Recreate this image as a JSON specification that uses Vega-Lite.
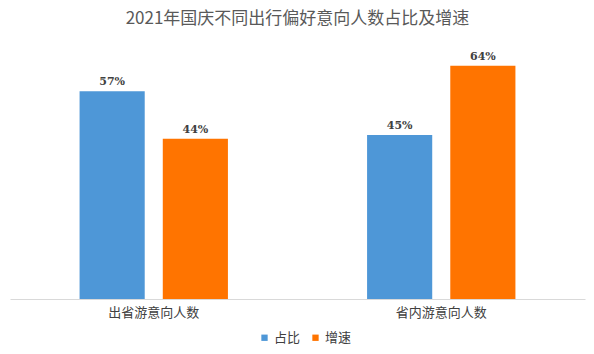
{
  "$schema": "https://vega.github.io/schema/vega-lite/v6.json",
  "autosize": "none",
  "width": 575,
  "height": 255,
  "padding": {"left": 10, "top": 44, "right": 9, "bottom": 55},
  "background": "white",
  "title": {
    "text": "2021年国庆不同出行偏好意向人数占比及增速",
    "font": "Noto Sans CJK SC",
    "fontSize": 17,
    "fontWeight": "normal",
    "color": "#595959",
    "offset": 16,
    "anchor": "middle"
  },
  "data": {
    "values": [
      {"group": "出省游意向人数", "series": "占比", "value": 0.57},
      {"group": "出省游意向人数", "series": "增速", "value": 0.44},
      {"group": "省内游意向人数", "series": "占比", "value": 0.45},
      {"group": "省内游意向人数", "series": "增速", "value": 0.64}
    ]
  },
  "encoding": {
    "x": {
      "field": "group",
      "type": "nominal",
      "sort": ["出省游意向人数", "省内游意向人数"],
      "scale": {"paddingInner": 0.484, "paddingOuter": 0.242},
      "axis": {
        "title": null,
        "labelAngle": 0,
        "labelFont": "Noto Sans CJK SC",
        "labelFontSize": 13,
        "labelColor": "#404040",
        "labelPadding": 7,
        "ticks": false,
        "domainColor": "#d9d9d9",
        "domainWidth": 1
      }
    },
    "xOffset": {
      "field": "series",
      "type": "nominal",
      "sort": ["占比", "增速"],
      "scale": {"paddingInner": 0.217, "paddingOuter": 0}
    },
    "y": {
      "field": "value",
      "type": "quantitative",
      "scale": {"domain": [0, 0.7]},
      "axis": null
    }
  },
  "layer": [
    {
      "mark": {"type": "bar"},
      "encoding": {
        "color": {
          "field": "series",
          "type": "nominal",
          "sort": ["占比", "增速"],
          "scale": {"domain": ["占比", "增速"], "range": ["#4E97D7", "#FF7400"]},
          "legend": {
            "title": null,
            "orient": "none",
            "legendX": 248,
            "legendY": 287,
            "direction": "horizontal",
            "symbolType": "square",
            "symbolSize": 40,
            "labelFont": "Noto Sans CJK SC",
            "labelFontSize": 13,
            "labelColor": "#404040",
            "columnPadding": 8,
            "symbolOffset": 0,
            "labelOffset": 3
          }
        }
      }
    },
    {
      "mark": {
        "type": "text",
        "dy": -9,
        "font": "DejaVu Serif",
        "fontWeight": "bold",
        "fontSize": 11,
        "color": "#404040"
      },
      "encoding": {
        "text": {"field": "value", "type": "quantitative", "format": ".0%"}
      }
    }
  ],
  "config": {
    "view": {"stroke": null}
  }
}
